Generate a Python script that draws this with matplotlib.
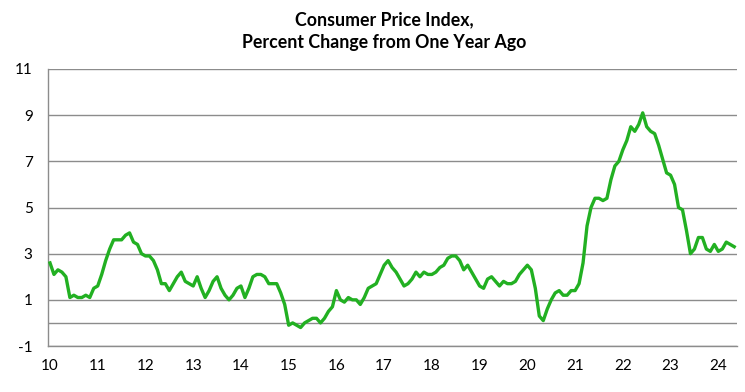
import matplotlib
matplotlib.use("Agg")
import matplotlib.pyplot as plt
import numpy as np

plt.rcParams['font.family'] = ['Lato', 'DejaVu Sans']

start_year = 2010
cpi_2010 = [2.6, 2.1, 2.3, 2.2, 2.0, 1.1, 1.2, 1.1, 1.1, 1.2, 1.1, 1.5]
cpi_2011 = [1.6, 2.1, 2.7, 3.2, 3.6, 3.6, 3.6, 3.8, 3.9, 3.5, 3.4, 3.0]
cpi_2012 = [2.9, 2.9, 2.7, 2.3, 1.7, 1.7, 1.4, 1.7, 2.0, 2.2, 1.8, 1.7]
cpi_2013 = [1.6, 2.0, 1.5, 1.1, 1.4, 1.8, 2.0, 1.5, 1.2, 1.0, 1.2, 1.5]
cpi_2014 = [1.6, 1.1, 1.5, 2.0, 2.1, 2.1, 2.0, 1.7, 1.7, 1.7, 1.3, 0.8]
cpi_2015 = [-0.1, 0.0, -0.1, -0.2, 0.0, 0.1, 0.2, 0.2, 0.0, 0.2, 0.5, 0.7]
cpi_2016 = [1.4, 1.0, 0.9, 1.1, 1.0, 1.0, 0.8, 1.1, 1.5, 1.6, 1.7, 2.1]
cpi_2017 = [2.5, 2.7, 2.4, 2.2, 1.9, 1.6, 1.7, 1.9, 2.2, 2.0, 2.2, 2.1]
cpi_2018 = [2.1, 2.2, 2.4, 2.5, 2.8, 2.9, 2.9, 2.7, 2.3, 2.5, 2.2, 1.9]
cpi_2019 = [1.6, 1.5, 1.9, 2.0, 1.8, 1.6, 1.8, 1.7, 1.7, 1.8, 2.1, 2.3]
cpi_2020 = [2.5, 2.3, 1.5, 0.3, 0.1, 0.6, 1.0, 1.3, 1.4, 1.2, 1.2, 1.4]
cpi_2021 = [1.4, 1.7, 2.6, 4.2, 5.0, 5.4, 5.4, 5.3, 5.4, 6.2, 6.8, 7.0]
cpi_2022 = [7.5, 7.9, 8.5, 8.3, 8.6, 9.1, 8.5, 8.3, 8.2, 7.7, 7.1, 6.5]
cpi_2023 = [6.4, 6.0, 5.0, 4.9, 4.0, 3.0, 3.2, 3.7, 3.7, 3.2, 3.1, 3.4]
cpi_2024 = [3.1, 3.2, 3.5, 3.4, 3.3]

cpi = (cpi_2010 + cpi_2011 + cpi_2012 + cpi_2013 + cpi_2014 + cpi_2015 +
       cpi_2016 + cpi_2017 + cpi_2018 + cpi_2019 + cpi_2020 + cpi_2021 +
       cpi_2022 + cpi_2023 + cpi_2024)

x_labels = ['10', '11', '12', '13', '14', '15', '16', '17', '18', '19',
            '20', '21', '22', '23', '24']
y_ticks = [-1, 1, 3, 5, 7, 9, 11]
title = 'Consumer Price Index,\nPercent Change from One Year Ago'

months = np.arange(len(cpi))

fig = plt.figure(figsize=(7.45, 3.92), dpi=100)
ax = fig.add_axes([48/745, 1 - 346/392, (737-48)/745, (346-69)/392])

grid_color = '#8c8c8c'
for y in y_ticks + [0]:
    ax.axhline(y, color=grid_color, lw=1.0, zorder=1)

ax.plot(months, cpi, color='#22b022', lw=2.4, zorder=3, solid_joinstyle='round')

ax.set_xlim(-0.5, 172.7)
ax.set_ylim(-1, 11)
ax.set_yticks(y_ticks)
ax.set_yticklabels([str(v) for v in y_ticks])
ax.set_xticks(np.arange(len(x_labels)) * 12)
ax.set_xticklabels(x_labels)
ax.tick_params(axis='both', length=0, labelsize=11, colors='black')
ax.tick_params(axis='y', pad=11)
ax.tick_params(axis='x', pad=9)

for side in ['top', 'right']:
    ax.spines[side].set_visible(False)
ax.spines['left'].set_color(grid_color)
ax.spines['bottom'].set_color(grid_color)
ax.spines['left'].set_linewidth(1.0)
ax.spines['bottom'].set_linewidth(1.0)

fig.text(384/745, 1 - 31/392, title, ha='center', va='center',
         fontsize=12.8, fontweight='bold', linespacing=1.45)

fig.savefig('out.png', dpi=100)
